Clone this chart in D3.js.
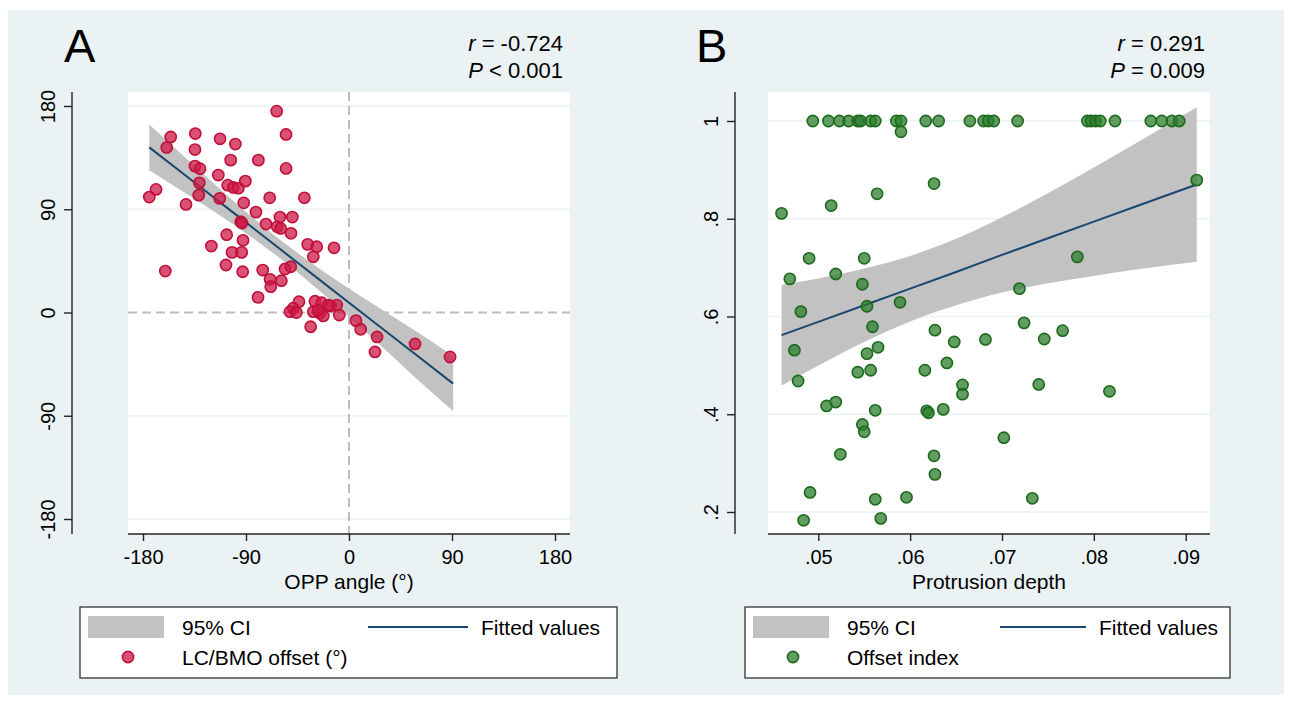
<!DOCTYPE html>
<html>
<head>
<meta charset="utf-8">
<script src="https://cdn.jsdelivr.net/npm/d3@7"></script>
<style>
  body { margin: 0; background: #fff; }
  svg text { font-family: "Liberation Sans", Arial, sans-serif; fill: #000; }
</style>
</head>
<body>
<div id="chart"></div>
<script>

// ---- Panel A data: OPP angle vs LC/BMO offset (degrees)
const oppAngle = [-63.2, -155.8, -159.3, -134.3, -134.6, -112.7, -99.3, -55, -103.4, -79.2,
    -55, -134.6, -130.2, -114.2, -130.8, -106, -101.1, -96.7, -90.6, -168.6,
    -174.5, -131.3, -113, -142.4, -92, -69.3, -39, -81.3, -60.3, -49.5,
    -94.6, -93.5, -72.5, -62.7, -59.7, -50.7, -106.9, -92.6, -120.3, -36.1,
    -28.2, -13.1, -31.2, -102.2, -93.8, -107.5, -160.5, -92.9, -75.4, -55.9,
    -50.9, -69, -68.4, -59.1, -79.5, -43.7, -29.7, -23.9, -16, -10.7,
    -48.7, -51.6, -46, -31.2, -25.3, -22.5, -18, -27, -33.5, -8.5,
    6.1, 10.2, 24.5, 22.7, 57.7, 88.3];
const lcbmoOffset = [175.5, 153, 143.9, 156, 142, 151.4, 146.8, 155.2, 132.8, 132.8,
    125.6, 127.6, 125.3, 119.8, 113, 111, 109, 108.4, 114.5, 107.3,
    100.6, 102.3, 99.5, 94.2, 95.6, 100, 100, 87.5, 83.2, 83.2,
    79.1, 78, 77.1, 74.7, 73.3, 69, 67.8, 62.9, 57.9, 59.4,
    57.3, 56.4, 48.6, 52.4, 52.4, 41.4, 36.1, 35.5, 37, 37.9,
    39.9, 28.9, 22.5, 27.7, 13.2, 9.4, 9.8, 8.5, 5.7, 6.5,
    3.7, 0.7, 0, 0.7, -0.7, -3, 6.5, 2, -12.4, -2.2,
    -7.1, -14.6, -21.3, -34.4, -27.4, -38.8];

// fitted line + 95% CI
const fitAngle = [-174.5, -140, -100, -60, -20, 20, 60, 91];
const fitOffset = [143.9, 117.2, 86.2, 55.1, 24.1, -6.9, -37.9, -62];
const ciOffsetLo = [124, 102.2, 76, 47.1, 13.9, -21.9, -58.6, -86];
const ciOffsetHi = [163.8, 132.2, 96.4, 63.1, 34.3, 8.1, -17.2, -38];

const angleTicks = [-180, -90, 0, 90, 180];
const angleTickLabels = ["-180", "-90", "0", "90", "180"];

// ---- Panel B data: protrusion depth vs offset index
const depth = [0.0494, 0.0511, 0.0523, 0.0533, 0.0543, 0.0546, 0.0557, 0.0562, 0.0585, 0.0590,
    0.0617, 0.0631, 0.0665, 0.0680, 0.0685, 0.0691, 0.0717, 0.0793, 0.0797, 0.0802,
    0.0807, 0.0823, 0.0862, 0.0874, 0.0885, 0.0893,
    0.0590, 0.0626, 0.0564, 0.0514, 0.0460, 0.0490, 0.0550, 0.0469, 0.0519, 0.0548,
    0.0481, 0.0553, 0.0589, 0.0559, 0.0627, 0.0682, 0.0474, 0.0478, 0.0648, 0.0565,
    0.0553, 0.0543, 0.0557, 0.0616, 0.0640, 0.0657, 0.0657, 0.0509, 0.0519, 0.0562,
    0.0618, 0.0620, 0.0636, 0.0548, 0.0550, 0.0524, 0.0626, 0.0627, 0.0491, 0.0562,
    0.0596, 0.0484, 0.0568, 0.0746, 0.0766, 0.0740, 0.0817, 0.0702, 0.0733, 0.0912,
    0.0782, 0.0719, 0.0724];
const offsetIndex = [1, 1, 1, 1, 1, 1, 1, 1, 1, 1,
    1, 1, 1, 1, 1, 1, 1, 1, 1, 1,
    1, 1, 1, 1, 1, 1,
    0.978, 0.872, 0.851, 0.827, 0.811, 0.719, 0.719, 0.677, 0.687, 0.666,
    0.610, 0.621, 0.629, 0.579, 0.572, 0.553, 0.531, 0.468, 0.548, 0.537,
    0.524, 0.486, 0.490, 0.490, 0.505, 0.460, 0.441, 0.417, 0.425, 0.408,
    0.407, 0.403, 0.410, 0.379, 0.364, 0.318, 0.315, 0.277, 0.240, 0.226,
    0.230, 0.183, 0.187, 0.554, 0.571, 0.461, 0.447, 0.352, 0.228, 0.879,
    0.722, 0.657, 0.587];

const fitDepth = [0.046, 0.050, 0.055, 0.060, 0.065, 0.070, 0.075, 0.080, 0.085, 0.0912];
const fitIndex = [0.562, 0.589, 0.623, 0.657, 0.691, 0.726, 0.760, 0.794, 0.828, 0.870];
const ciIndexLo = [0.459, 0.500, 0.548, 0.590, 0.623, 0.649, 0.668, 0.683, 0.697, 0.712];
const ciIndexHi = [0.665, 0.678, 0.698, 0.724, 0.759, 0.803, 0.852, 0.905, 0.959, 1.028];

const depthTicks = [0.05, 0.06, 0.07, 0.08, 0.09];
const depthTickLabels = [".05", ".06", ".07", ".08", ".09"];
const indexTicks = [0.2, 0.4, 0.6, 0.8, 1];
const indexTickLabels = [".2", ".4", ".6", ".8", "1"];


const W = 1290, H = 702;
const bg = "#eaf2f3";

const svg = d3.select("#chart").append("svg")
    .attr("width", W)
    .attr("height", H);

svg.append("rect")
    .attr("x", 8).attr("y", 10)
    .attr("width", 1276).attr("height", 685)
    .attr("fill", bg);

function drawPanel(p) {
    let g = svg.append("g");

    // white plot region
    g.append("rect")
        .attr("x", p.plot[0]).attr("y", p.plot[1])
        .attr("width", p.plot[2] - p.plot[0]).attr("height", p.plot[3] - p.plot[1])
        .attr("fill", "#fff");

    let x = d3.scaleLinear().domain(p.xDomain).range(p.xRange);
    let y = d3.scaleLinear().domain(p.yDomain).range(p.yRange);

    // horizontal gridlines
    g.selectAll(".grid")
        .data(p.yTicks.filter(d => !(p.refLines && d === 0)))
        .enter().append("line")
        .attr("x1", p.plot[0]).attr("x2", p.plot[2])
        .attr("y1", d => y(d)).attr("y2", d => y(d))
        .attr("stroke", bg).attr("stroke-width", 1.6);

    // dashed reference lines at zero
    if (p.refLines) {
        g.append("line")
            .attr("x1", p.plot[0]).attr("x2", p.plot[2])
            .attr("y1", y(0)).attr("y2", y(0))
            .attr("stroke", "#bdbdbd").attr("stroke-width", 2)
            .attr("stroke-dasharray", "9,5");
        g.append("line")
            .attr("x1", x(0)).attr("x2", x(0))
            .attr("y1", p.plot[1]).attr("y2", p.plot[3])
            .attr("stroke", "#bdbdbd").attr("stroke-width", 2)
            .attr("stroke-dasharray", "9,5");
    }

    // CI band
    let band = p.fitX.map((d, i) => ({ x: d, lo: p.ciLo[i], hi: p.ciHi[i], fit: p.fitY[i] }));
    g.append("path")
        .datum(band)
        .attr("fill", "#c2c2c2")
        .attr("d", d3.area().curve(d3.curveMonotoneX)
            .x(d => x(d.x)).y0(d => y(d.lo)).y1(d => y(d.hi)));

    // fitted line
    g.append("path")
        .datum(band)
        .attr("fill", "none")
        .attr("stroke", "#1a476f")
        .attr("stroke-width", 2)
        .attr("d", d3.line().x(d => x(d.x)).y(d => y(d.fit)));

    // scatter points
    g.selectAll(".dot")
        .data(p.xs.map((d, i) => [d, p.ys[i]]))
        .enter().append("circle")
        .attr("cx", d => x(d[0]))
        .attr("cy", d => y(d[1]))
        .attr("r", 5.6)
        .attr("fill", p.fill)
        .attr("fill-opacity", 0.75)
        .attr("stroke", p.stroke)
        .attr("stroke-width", 1.6);

    // x axis
    let xAxis = d3.axisBottom(x)
        .tickValues(p.xTicks)
        .tickFormat((d, i) => p.xTickLabels[i])
        .tickSize(7).tickSizeOuter(0).tickPadding(9);
    let xg = g.append("g")
        .attr("transform", "translate(0," + p.plot[3] + ")")
        .call(xAxis);
    xg.select(".domain").remove();
    xg.append("line")
        .attr("x1", p.plot[0]).attr("x2", p.plot[2])
        .attr("stroke", "#222").attr("stroke-width", 1.4);
    xg.selectAll("line").attr("stroke", "#222").attr("stroke-width", 1.4);
    xg.selectAll("text").style("font-size", "20px").attr("fill", "#000");

    // y axis
    let yAxis = d3.axisLeft(y)
        .tickValues(p.yTicks)
        .tickFormat((d, i) => p.yTickLabels[i])
        .tickSize(8).tickSizeOuter(0);
    let yg = g.append("g")
        .attr("transform", "translate(" + p.yAxisX + ",0)")
        .call(yAxis);
    yg.select(".domain").remove();
    yg.append("line")
        .attr("y1", p.plot[1]).attr("y2", p.plot[3])
        .attr("stroke", "#222").attr("stroke-width", 1.4);
    yg.selectAll("line").attr("stroke", "#222").attr("stroke-width", 1.4);
    yg.selectAll("text")
        .style("font-size", "20px")
        .attr("fill", "#000")
        .attr("x", null).attr("dy", null)
        .attr("text-anchor", "middle")
        .attr("transform", "translate(-17,0) rotate(-90)");

    // axis title
    g.append("text")
        .attr("x", (p.plot[0] + p.plot[2]) / 2)
        .attr("y", 589)
        .attr("text-anchor", "middle")
        .style("font-size", "21px")
        .text(p.xTitle);

    // panel letter
    g.append("text")
        .attr("x", p.letterX).attr("y", 62)
        .style("font-size", "47px")
        .text(p.letter);

    // r and P annotation
    let rt = g.append("text")
        .attr("x", p.annX).attr("y", 51)
        .attr("text-anchor", "end")
        .style("font-size", "22px");
    rt.append("tspan").style("font-style", "italic").text("r");
    rt.append("tspan").text(" = " + p.r);
    let pt = g.append("text")
        .attr("x", p.annX).attr("y", 78)
        .attr("text-anchor", "end")
        .style("font-size", "22px");
    pt.append("tspan").style("font-style", "italic").text("P");
    pt.append("tspan").text(p.pText);

    // legend
    let lg = g.append("g").attr("transform", "translate(" + p.legend[0] + ",607)");
    lg.append("rect")
        .attr("width", p.legend[1]).attr("height", 71)
        .attr("fill", "#fff")
        .attr("stroke", "#333").attr("stroke-width", 1.3);
    lg.append("rect")
        .attr("x", 8).attr("y", 9).attr("width", 76).attr("height", 22)
        .attr("fill", "#c2c2c2");
    lg.append("text").attr("x", 102).attr("y", 28).style("font-size", "21px").text("95% CI");
    lg.append("line")
        .attr("x1", p.legend[2]).attr("x2", p.legend[2] + p.legend[3])
        .attr("y1", 20).attr("y2", 20)
        .attr("stroke", "#1a476f").attr("stroke-width", 2);
    lg.append("text").attr("x", p.legend[2] + p.legend[3] + 13).attr("y", 28)
        .style("font-size", "21px").text("Fitted values");
    lg.append("circle")
        .attr("cx", 48).attr("cy", 50).attr("r", 5.6)
        .attr("fill", p.fill).attr("fill-opacity", 0.75)
        .attr("stroke", p.stroke).attr("stroke-width", 1.6);
    lg.append("text").attr("x", 102).attr("y", 58).style("font-size", "21px").text(p.seriesName);
}

drawPanel({
    letter: "A", letterX: 64,
    plot: [128, 92, 570, 534],
    xDomain: [-180, 180], xRange: [143, 555],
    yDomain: [-180, 180], yRange: [519, 106],
    yAxisX: 72,
    xTicks: angleTicks, xTickLabels: angleTickLabels,
    yTicks: angleTicks, yTickLabels: angleTickLabels,
    xs: oppAngle, ys: lcbmoOffset,
    fitX: fitAngle, fitY: fitOffset, ciLo: ciOffsetLo, ciHi: ciOffsetHi,
    refLines: true,
    fill: "#cc1844", stroke: "#c0103a",
    xTitle: "OPP angle (°)",
    annX: 563, r: "-0.724", pText: " < 0.001",
    legend: [80, 537, 288, 100],
    seriesName: "LC/BMO offset (°)"
});

drawPanel({
    letter: "B", letterX: 696,
    plot: [768, 92, 1210, 534],
    xDomain: [0.05, 0.09], xRange: [818.3, 1185.7],
    yDomain: [0.2, 1], yRange: [512, 121],
    yAxisX: 735,
    xTicks: depthTicks, xTickLabels: depthTickLabels,
    yTicks: indexTicks, yTickLabels: indexTickLabels,
    xs: depth, ys: offsetIndex,
    fitX: fitDepth, fitY: fitIndex, ciLo: ciIndexLo, ciHi: ciIndexHi,
    refLines: false,
    fill: "#2e7d2e", stroke: "#1c6a1c",
    xTitle: "Protrusion depth",
    annX: 1205, r: "0.291", pText: " = 0.009",
    legend: [745, 485, 255, 86],
    seriesName: "Offset index"
});

</script>
</body>
</html>
